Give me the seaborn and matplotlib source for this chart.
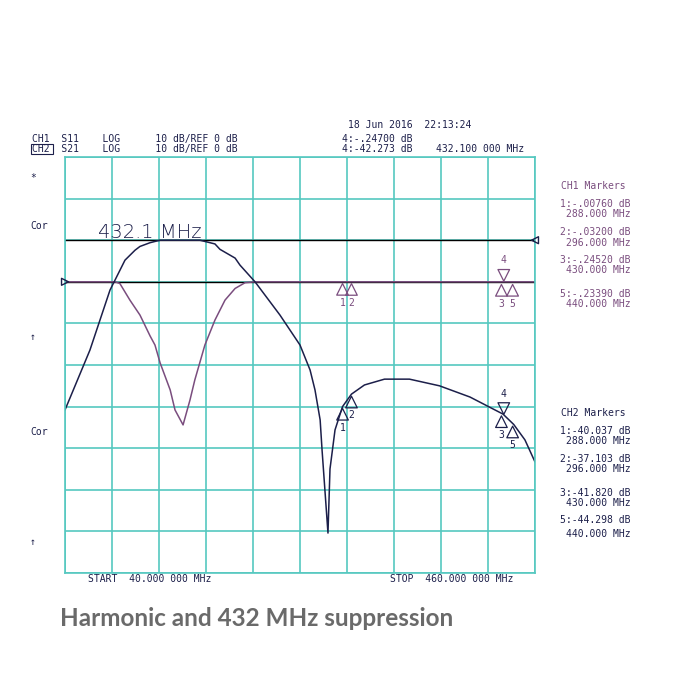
import numpy as np
import pandas as pd
import seaborn as sns
from matplotlib import pyplot as plt

# frequency range (MHz) and scale
f_start = 40.0
f_stop = 460.0
db_per_div = 10.0
ch1_ref_div = 7
ch2_ref_div = 8

# CH1 S11 trace (MHz, dB)
s11_freq = [40, 84.7, 89, 98, 107, 116, 120.4, 125, 134, 138.3, 145.5, 151.7, 156,
            165, 174, 183, 192, 201, 210, 460]
s11_db = [0, 0, -0.4, -4.4, -8, -13, -15.2, -19.5, -26, -30.8, -34.4, -28.4, -23.6,
          -15.2, -9.2, -4.4, -1.6, -0.2, 0, 0]

# CH2 S21 trace (MHz, dB)
s21_freq = [40, 62.3, 80.2, 93.6, 102.6, 107, 116, 124.9, 160.6, 174, 178.5, 192,
            196.4, 209.8, 232.1, 250, 259, 263.4, 268, 269.7, 275, 276.8, 281.3, 288,
            296, 307.6, 325.5, 347.8, 374.6, 401.9, 431.4, 441, 451, 460]
s21_db = [-40.8, -26.4, -12, -4.8, -2.4, -1.5, -0.6, 0, 0, -0.9, -2.2, -4.3,
          -6, -10, -18, -25.2, -31.2, -36, -43.2, -50.4, -70.4, -55, -45.6, -40,
          -37, -34.8, -33.4, -33.4, -35, -37.7, -41.8, -44.3, -48, -53.3]

# markers
ch1_mk_freq = [288, 296, 430, 432.1, 440]
ch1_mk_db = [-0.0076, -0.032, -0.2452, -0.247, -0.2339]
ch2_mk_freq = [288, 296, 430, 432.1, 440]
ch2_mk_db = [-40.037, -37.103, -41.82, -42.273, -44.298]
mk_names = ['1', '2', '3', '4', '5']

ch1_lines = ['1:-.00760 dB', '288.000 MHz', '2:-.03200 dB', '296.000 MHz',
             '3:-.24520 dB', '430.000 MHz', '5:-.23390 dB', '440.000 MHz']
ch2_lines = ['1:-40.037 dB', '288.000 MHz', '2:-37.103 dB', '296.000 MHz',
             '3:-41.820 dB', '430.000 MHz', '5:-44.298 dB', '440.000 MHz']

sns.set_style('white')
mono = 'DejaVu Sans Mono'
grid_c = '#55c8c0'
navy = '#1c1f4a'
purple = '#7a4d7e'

fig = plt.figure(figsize=(7, 7), dpi=100)
ax = fig.add_axes([65/700, 127/700, 470/700, 416/700])

def to_div(db, ref):
    return np.array(db) / db_per_div + ref

df1 = pd.DataFrame({'f': s11_freq, 'y': to_div(s11_db, ch1_ref_div)})
df2 = pd.DataFrame({'f': s21_freq, 'y': to_div(s21_db, ch2_ref_div)})

ax.set_xlim(f_start, f_stop)
ax.set_ylim(0, 10)
ax.set_xticks(np.linspace(f_start, f_stop, 11))
ax.set_yticks(np.arange(0, 11))
ax.grid(True, color=grid_c, lw=1.2)
ax.tick_params(length=0, labelbottom=False, labelleft=False)
for s in ax.spines.values():
    s.set_color(grid_c)
    s.set_linewidth(1.2)

ax.axhline(ch2_ref_div, color='black', lw=1)
ax.axhline(ch1_ref_div, color='black', lw=1)
sns.lineplot(data=df1, x='f', y='y', sort=False, color=purple, lw=1.1, ax=ax)
sns.lineplot(data=df2, x='f', y='y', sort=False, color=navy, lw=1.1, ax=ax)
ax.set_xlabel('')
ax.set_ylabel('')

# marker triangles
def draw_markers(freqs, dbs, ref, color):
    ys = to_div(dbs, ref)
    for name, fq, y in zip(mk_names, freqs, ys):
        if name == '4':
            ax.scatter([fq], [y + 0.18], marker='v', s=70, facecolors='none',
                       edgecolors=color, lw=0.9, clip_on=False, zorder=5)
            ax.text(fq, y + 0.42, name, ha='center', va='bottom', fontsize=7,
                    color=color, family=mono)
        else:
            ax.scatter([fq], [y - 0.18], marker='^', s=70, facecolors='none',
                       edgecolors=color, lw=0.9, clip_on=False, zorder=5)
            ax.text(fq, y - 0.38, name, ha='center', va='top', fontsize=7,
                    color=color, family=mono)

draw_markers(ch1_mk_freq, ch1_mk_db, ch1_ref_div, purple)
draw_markers(ch2_mk_freq, ch2_mk_db, ch2_ref_div, navy)

# ref pointers
ax.scatter([f_start], [ch1_ref_div], marker='>', s=25, facecolors='none',
           edgecolors=navy, clip_on=False, zorder=5)
ax.scatter([f_stop], [ch2_ref_div], marker='<', s=25, facecolors='none',
           edgecolors=navy, clip_on=False, zorder=5)

ax.text(0.07, 8.05, '432.1 MHz', fontsize=14, color=navy, family='DejaVu Sans',
        fontweight='light', transform=ax.get_yaxis_transform())


def ftext(px, py, s, **kw):
    kw.setdefault('fontsize', 7)
    kw.setdefault('color', navy)
    kw.setdefault('family', mono)
    fig.text(px/700, 1 - py/700, s, va='center', **kw)

ftext(348, 125, '18 Jun 2016  22:13:24')
ftext(32, 139, 'CH1  S11    LOG      10 dB/REF 0 dB')
ftext(32, 149, 'CH2  S21    LOG      10 dB/REF 0 dB')
fig.patches.append(plt.Rectangle((31/700, 1 - 154/700), 22/700, 10/700,
                                 transform=fig.transFigure, fill=False,
                                 ec=navy, lw=0.8))
ftext(342, 139, '4:-.24700 dB')
ftext(342, 149, '4:-42.273 dB    432.100 000 MHz')

for py, s in [(178, '*'), (226, 'Cor'), (337, '↑'), (432, 'Cor'), (542, '↑')]:
    ftext(30, py, s)

ftext(88, 579, 'START  40.000 000 MHz')
ftext(390, 579, 'STOP  460.000 000 MHz')

ftext(561, 186, 'CH1 Markers', color=purple)
ys1 = [204, 214, 232, 243, 260, 270, 294, 304]
for py, s in zip(ys1, ch1_lines):
    ftext(631, py, s, color=purple, ha='right')
ftext(561, 413, 'CH2 Markers')
ys2 = [431, 441, 459, 469, 493, 503, 520, 534]
for py, s in zip(ys2, ch2_lines):
    ftext(631, py, s, ha='right')

fig.text(60/700, 1 - 618/700, 'Harmonic and 432 MHz suppression', fontsize=17.5,
         fontweight='bold', color='#6a6a6a', family='Lato', va='center')

fig.savefig('out.png', dpi=100)
